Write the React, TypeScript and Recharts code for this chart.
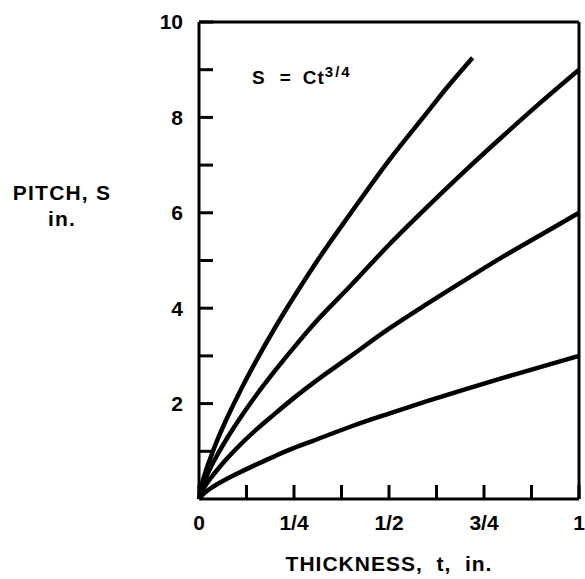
import { LineChart, Line, XAxis, YAxis, ReferenceLine } from "recharts"

// thickness t (in.) and pitch S (in.), S = C t^(3/4)
const T = [0, 0.01, 0.02, 0.03, 0.05, 0.075, 0.1, 0.15, 0.2, 0.25, 0.3, 0.4, 0.5, 0.6, 0.7, 0.8, 0.9, 1]
const S_C3 = [0, 0.09, 0.16, 0.22, 0.32, 0.43, 0.53, 0.72, 0.9, 1.07, 1.22, 1.52, 1.79, 2.05, 2.3, 2.54, 2.77, 3.0]
const S_C6 = [0, 0.19, 0.32, 0.43, 0.63, 0.86, 1.07, 1.45, 1.79, 2.12, 2.43, 3.0, 3.57, 4.09, 4.59, 5.08, 5.54, 6.0]
const S_C9 = [0, 0.28, 0.48, 0.65, 0.95, 1.29, 1.6, 2.17, 2.69, 3.18, 3.65, 4.48, 5.33, 6.12, 6.88, 7.61, 8.32, 9.0]
const T_C12 = [0, 0.01, 0.02, 0.03, 0.05, 0.075, 0.1, 0.15, 0.2, 0.25, 0.3, 0.4, 0.5, 0.6, 0.65, 0.72]
const S_C12 = [0, 0.38, 0.64, 0.86, 1.27, 1.72, 2.13, 2.89, 3.59, 4.24, 4.86, 6.0, 7.1, 8.1, 8.6, 9.25]

const X_TICKS = [0, 0.125, 0.25, 0.375, 0.5, 0.625, 0.75, 0.875, 1]
const X_LABELS: Record<string, string> = { "0": "0", "0.25": "1/4", "0.5": "1/2", "0.75": "3/4", "1": "1" }
const Y_TICKS = [1, 2, 3, 4, 5, 6, 7, 8, 9, 10]
const Y_LABELS = [2, 4, 6, 8, 10]

const toRows = (ts: number[], ss: number[]) => ts.map((t, i) => ({ t, s: ss[i] }))
const curves = [
  { key: "c3", data: toRows(T, S_C3) },
  { key: "c6", data: toRows(T, S_C6) },
  { key: "c9", data: toRows(T, S_C9) },
  { key: "c12", data: toRows(T_C12, S_C12) },
]

const FONT = '"Liberation Sans", Arial, sans-serif'
const tickStyle = { fontSize: 21, fontWeight: 700, fill: "#000", fontFamily: FONT }
const ink = { stroke: "#000", strokeWidth: 3 }

export default function App() {
  return (
    <div style={{ position: "absolute", left: 0, top: 0, width: 585, height: 579, background: "#fff", fontFamily: FONT, color: "#000" }}>
      <LineChart width={585} height={579} margin={{ top: 22, right: 6, left: 139, bottom: 50 }}>
        <XAxis dataKey="t" type="number" domain={[0, 1]} ticks={X_TICKS} interval={0} height={30}
          tickFormatter={(v: number) => X_LABELS[String(v)] ?? ""}
          tick={tickStyle} axisLine={ink} tickLine={ink} tickSize={-14} tickMargin={30} allowDuplicatedCategory={false} />
        <YAxis type="number" domain={[0, 10]} ticks={Y_TICKS} interval={0} width={60}
          tickFormatter={(v: number) => (Y_LABELS.includes(v) ? String(v) : "")}
          tick={tickStyle} axisLine={ink} tickLine={ink} tickSize={-14} tickMargin={30} />
        <ReferenceLine y={10} stroke="#000" strokeWidth={3} />
        <ReferenceLine x={1} stroke="#000" strokeWidth={3} />
        {curves.map(c => (
          <Line key={c.key} data={c.data} dataKey="s" type="monotone" stroke="#000" strokeWidth={4.5}
            dot={false} activeDot={false} isAnimationActive={false} />
        ))}
      </LineChart>
      <div style={{ position: "absolute", left: 0, top: 180, width: 124, textAlign: "center", fontSize: 21, fontWeight: 700, lineHeight: "26px", letterSpacing: 1.2 }}>
        PITCH, S<br />in.
      </div>
      <div style={{ position: "absolute", left: 199, top: 552, width: 380, textAlign: "center", fontSize: 21, fontWeight: 700, letterSpacing: 1, whiteSpace: "pre" }}>
        {"THICKNESS,  t,  in."}
      </div>
      <div style={{ position: "absolute", left: 252, top: 63, fontSize: 19, fontWeight: 700, whiteSpace: "pre", letterSpacing: 1 }}>
        <span>S</span>
        <span style={{ marginLeft: 14 }}>=</span>
        <span style={{ marginLeft: 11 }}>Ct</span>
        <sup style={{ fontSize: 15, letterSpacing: 2 }}>3/4</sup>
      </div>
    </div>
  )
}
